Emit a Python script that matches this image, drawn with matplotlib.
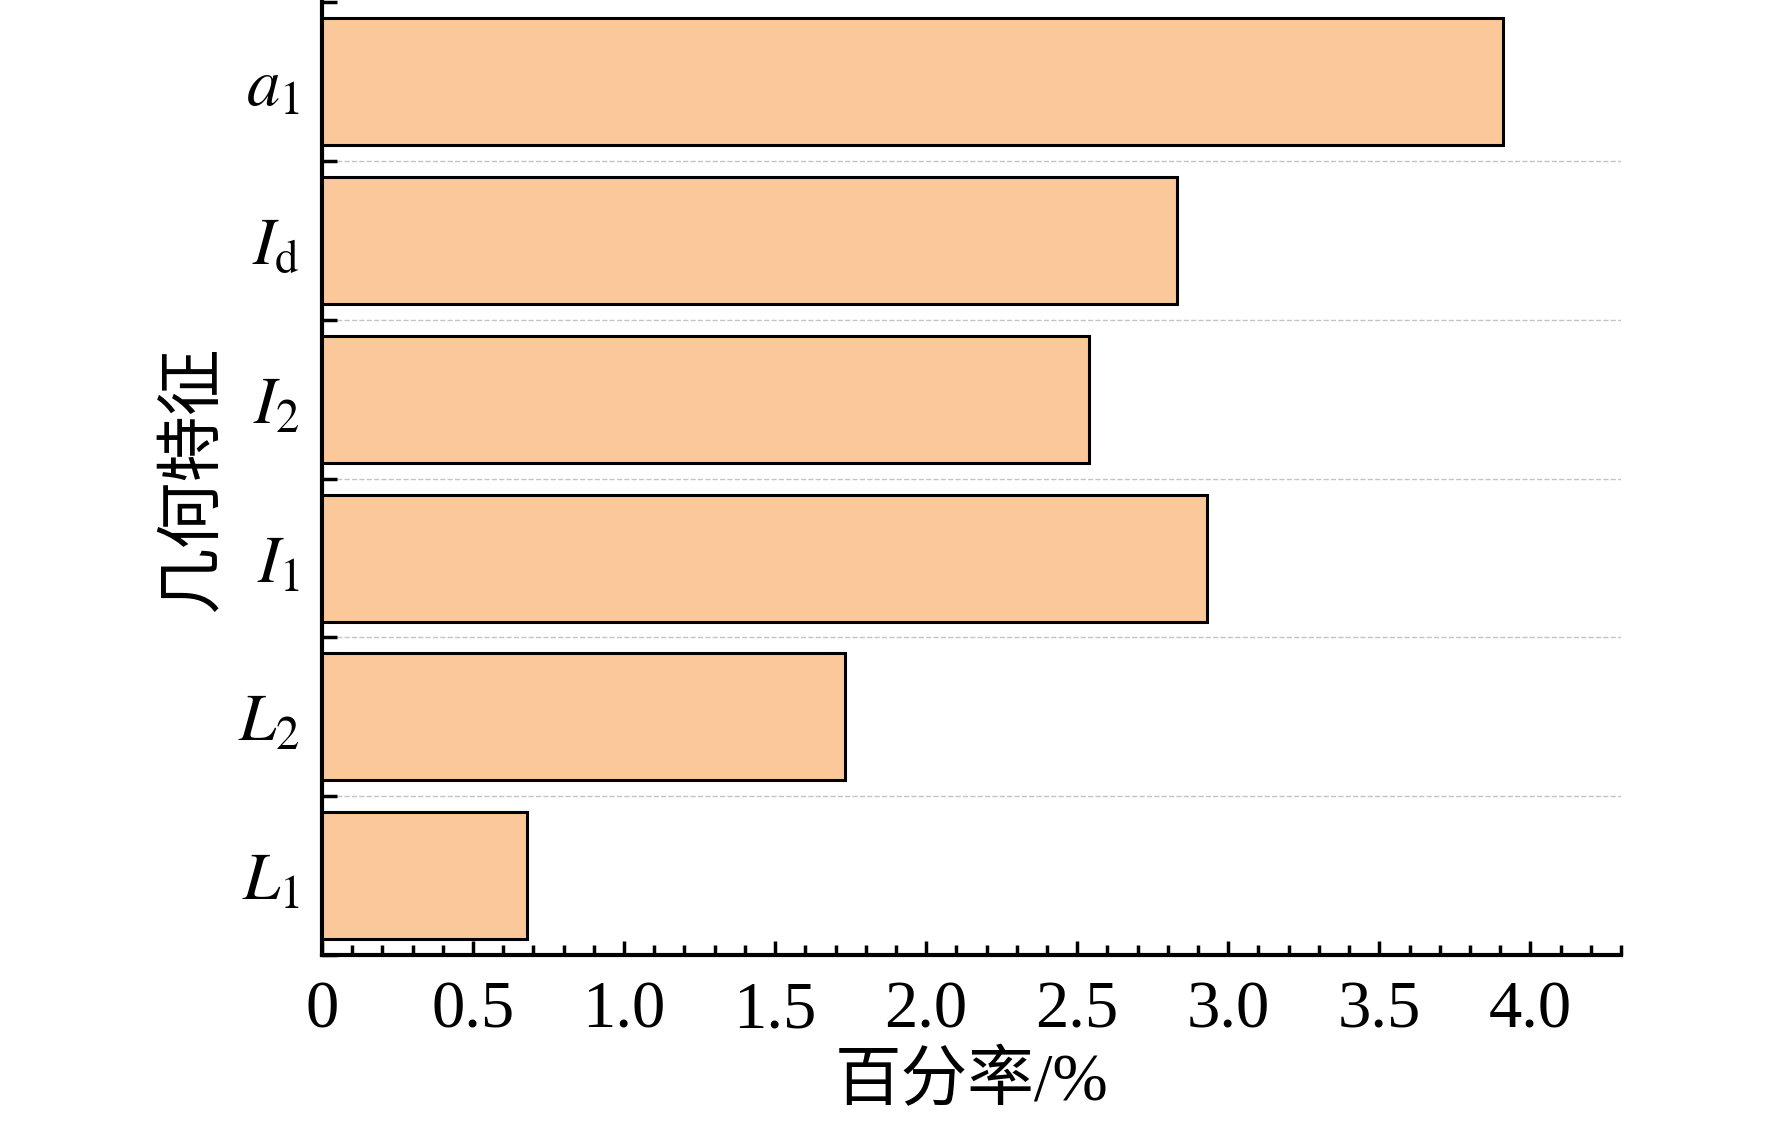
import matplotlib.pyplot as plt
from matplotlib.ticker import MultipleLocator, FixedLocator

plt.rcParams['font.family'] = ['Liberation Serif', 'Noto Sans CJK SC']
plt.rcParams['mathtext.fontset'] = 'stix'

features = [r'$L_1$', r'$L_2$', r'$I_1$', r'$I_2$', r'$I_\mathrm{d}$', r'$a_1$']
percent = [0.68, 1.73, 2.93, 2.54, 2.83, 3.91]
bar_color = '#FBC999'

fig = plt.figure(figsize=(17.72, 11.27), dpi=100)
ax = fig.add_axes([0.1817, 0.1526, 0.7331, 0.8454])

pos = list(range(len(features)))
ax.barh(pos, percent, height=0.8, color=bar_color, edgecolor='black',
        linewidth=2.2, zorder=3)

ax.set_xlim(0, 4.3)
ax.set_ylim(-0.5, len(features) - 0.5)

ax.xaxis.set_major_locator(FixedLocator([0, 0.5, 1.0, 1.5, 2.0, 2.5, 3.0, 3.5, 4.0]))
ax.xaxis.set_minor_locator(MultipleLocator(0.1))
ax.set_xticklabels(['0', '0.5', '1.0', '1.5', '2.0', '2.5', '3.0', '3.5', '4.0'])

ax.set_yticks(pos)
ax.set_yticklabels(features)
bounds = [p - 0.5 for p in pos] + [len(features) - 0.5]
ax.yaxis.set_minor_locator(FixedLocator(bounds))

ax.tick_params(axis='x', which='major', direction='in', length=10, width=2.5,
               labelsize=48, pad=18)
ax.tick_params(axis='x', which='minor', direction='in', length=7, width=2.5)
ax.tick_params(axis='y', which='major', length=0, labelsize=48, pad=16)
ax.tick_params(axis='y', which='minor', direction='in', length=11, width=2.5)

for side in ['top', 'right']:
    ax.spines[side].set_visible(False)
for side in ['left', 'bottom']:
    ax.spines[side].set_linewidth(3)

ax.yaxis.grid(True, which='minor', linestyle='--', color='#c4c4c4', linewidth=1.0, zorder=0)
# no dashed line on the outer edges
minor_ticks = ax.yaxis.get_minor_ticks()
minor_ticks[0].gridline.set_visible(False)
minor_ticks[-1].gridline.set_visible(False)

ax.set_xlabel('百分率/%', fontsize=48, labelpad=8)
ax.set_ylabel('几何特征', fontsize=48, labelpad=10)

fig.savefig('out.png', dpi=100)
